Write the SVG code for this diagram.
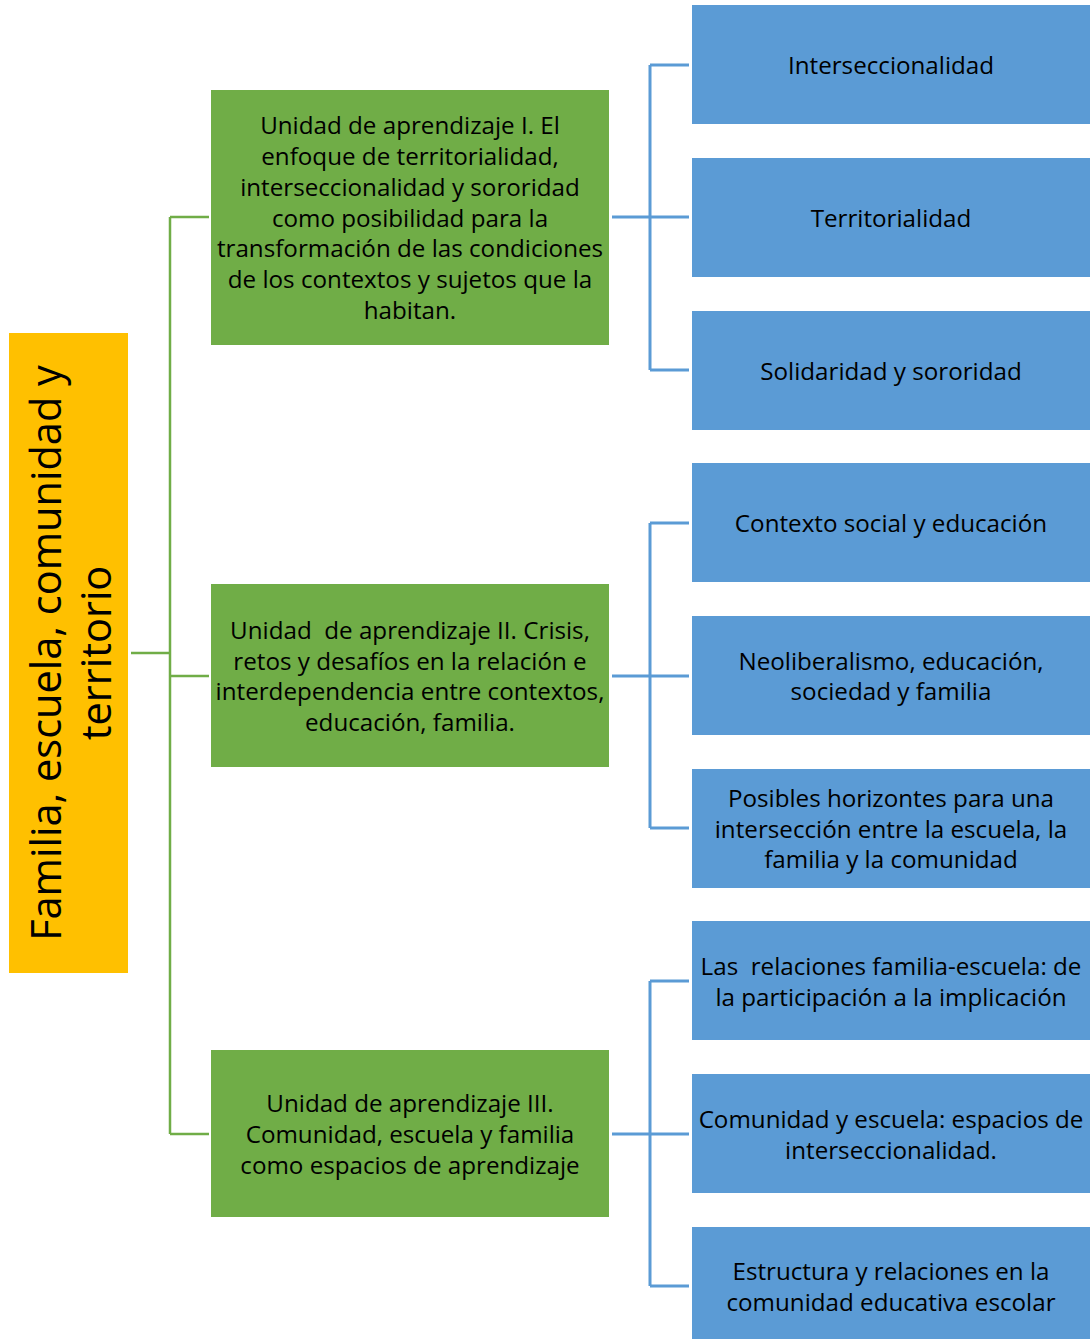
<svg xmlns="http://www.w3.org/2000/svg" width="1090" height="1339" viewBox="0 0 1090 1339">
<style>
.root{fill:#FFC000}
.g{fill:#70AD47}
.b{fill:#5B9BD5}
.t{font-family:"Open Sans","Liberation Sans",Arial,sans-serif;font-size:24.2px;fill:#000;text-anchor:middle;dominant-baseline:central}
.rt{font-family:"Open Sans","Liberation Sans",Arial,sans-serif;font-size:41.5px;fill:#000;text-anchor:middle;dominant-baseline:central}
.lg{fill:none;stroke:#70AD47;stroke-width:2.5}
.lb{fill:none;stroke:#5B9BD5;stroke-width:3}
</style>
<rect width="1090" height="1339" fill="#fff"/>
<g id="connectors">
<path class="lg" d="M131 653H170M170 217V1134M170 217H209M170 676H209M170 1134H209"/>
<path class="lb" d="M612 217H650M650 65V370M650 65H689M650 217H689M650 370H689"/>
<path class="lb" d="M612 676H650M650 523V828M650 523H689M650 676H689M650 828H689"/>
<path class="lb" d="M612 1134H650M650 981V1286M650 981H689M650 1134H689M650 1286H689"/>
</g>
<g id="root">
<rect class="root" x="9" y="333" width="119" height="640"/>
<text class="rt" transform="translate(68.5 653) rotate(-90)"><tspan x="0" y="-24">Familia, escuela, comunidad y</tspan><tspan x="0" y="26">territorio</tspan></text>
</g>
<g id="u1">
<rect class="g" x="211" y="90" width="398" height="255"/>
<text class="t"><tspan x="410" y="124">Unidad de aprendizaje I. El</tspan><tspan x="410" y="155">enfoque de territorialidad,</tspan><tspan x="410" y="186">interseccionalidad y sororidad</tspan><tspan x="410" y="217">como posibilidad para la</tspan><tspan x="410" y="247">transformación de las condiciones</tspan><tspan x="410" y="278">de los contextos y sujetos que la</tspan><tspan x="410" y="309">habitan.</tspan></text>
</g>
<g id="u2">
<rect class="g" x="211" y="584" width="398" height="183"/>
<text class="t" xml:space="preserve"><tspan x="410" y="629">Unidad  de aprendizaje II. Crisis,</tspan><tspan x="410" y="660">retos y desafíos en la relación e</tspan><tspan x="410" y="690">interdependencia entre contextos,</tspan><tspan x="410" y="721">educación, familia.</tspan></text>
</g>
<g id="u3">
<rect class="g" x="211" y="1050" width="398" height="167"/>
<text class="t"><tspan x="410" y="1102">Unidad de aprendizaje III.</tspan><tspan x="410" y="1133">Comunidad, escuela y familia</tspan><tspan x="410" y="1164">como espacios de aprendizaje</tspan></text>
</g>
<g id="b1"><rect class="b" x="692" y="5" width="398" height="119"/><text class="t" x="891" y="64">Interseccionalidad</text></g>
<g id="b2"><rect class="b" x="692" y="158" width="398" height="119"/><text class="t" x="891" y="217">Territorialidad</text></g>
<g id="b3"><rect class="b" x="692" y="311" width="398" height="119"/><text class="t" x="891" y="370">Solidaridad y sororidad</text></g>
<g id="b4"><rect class="b" x="692" y="463" width="398" height="119"/><text class="t" x="891" y="522">Contexto social y educación</text></g>
<g id="b5"><rect class="b" x="692" y="616" width="398" height="119"/><text class="t"><tspan x="891" y="660">Neoliberalismo, educación,</tspan><tspan x="891" y="690">sociedad y familia</tspan></text></g>
<g id="b6"><rect class="b" x="692" y="769" width="398" height="119"/><text class="t"><tspan x="891" y="797">Posibles horizontes para una</tspan><tspan x="891" y="828">intersección entre la escuela, la</tspan><tspan x="891" y="858">familia y la comunidad</tspan></text></g>
<g id="b7"><rect class="b" x="692" y="921" width="398" height="119"/><text class="t" xml:space="preserve"><tspan x="891" y="965">Las  relaciones familia-escuela: de</tspan><tspan x="891" y="996">la participación a la implicación</tspan></text></g>
<g id="b8"><rect class="b" x="692" y="1074" width="398" height="119"/><text class="t"><tspan x="891" y="1118">Comunidad y escuela: espacios de</tspan><tspan x="891" y="1149">interseccionalidad.</tspan></text></g>
<g id="b9"><rect class="b" x="692" y="1227" width="398" height="112"/><text class="t"><tspan x="891" y="1270">Estructura y relaciones en la</tspan><tspan x="891" y="1301">comunidad educativa escolar</tspan></text></g>
</svg>
